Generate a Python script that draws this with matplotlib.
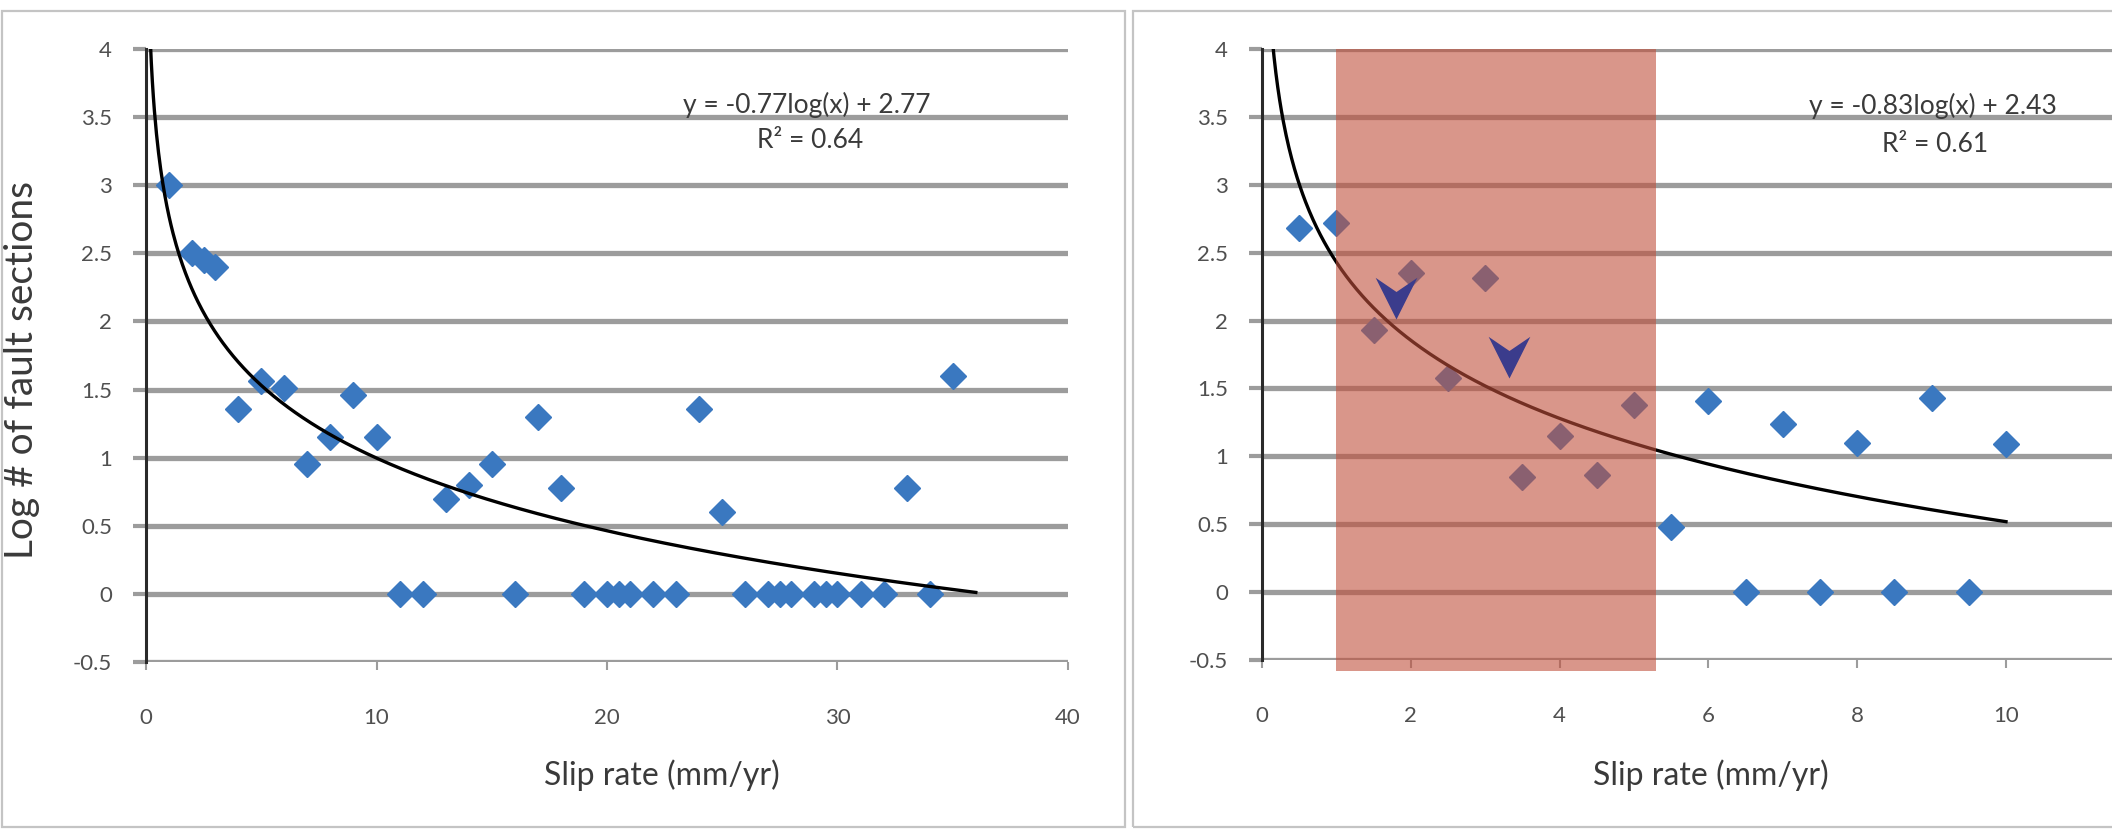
import numpy as np
import matplotlib
matplotlib.use("Agg")
import matplotlib.pyplot as plt
from matplotlib.patches import Rectangle
from matplotlib.path import Path

plt.rcParams['font.family'] = ['Lato', 'DejaVu Sans']

# ---------------- data ----------------
left_x = [1, 2, 2.5, 3, 4, 5, 6, 7, 8, 9, 10, 11, 12, 13, 14, 15, 16, 17, 18,
          19, 20, 20.5, 21, 22, 23, 24, 25, 26, 27, 27.5, 28, 29, 29.5, 30, 31, 32,
          33, 34, 35]
left_y = [3.0, 2.5, 2.45, 2.4, 1.36, 1.56, 1.51, 0.95, 1.15, 1.46, 1.15, 0, 0, 0.7, 0.8, 0.95, 0, 1.3, 0.78,
          0, 0, 0, 0, 0, 0, 1.36, 0.6, 0, 0, 0, 0, 0, 0, 0, 0, 0,
          0.78, 0, 1.6]

right_x = [0.5, 1, 1.5, 2, 2.5, 3, 3.5, 4, 4.5, 5, 5.5, 6, 6.5, 7, 7.5, 8, 8.5, 9, 9.5, 10]
right_y = [2.68, 2.72, 1.93, 2.35, 1.58, 2.31, 0.85, 1.15, 0.86, 1.38, 0.48, 1.41, 0, 1.24, 0, 1.1, 0, 1.43, 0, 1.09]

left_fit = (-0.77, 2.77)      # y = a*ln(x) + b
right_fit = (-0.83, 2.43)
left_fit_range = (0.05, 36.0)
right_fit_range = (0.05, 10.0)
left_eq = ["y = -0.77log(x) + 2.77", "R² = 0.64"]
right_eq = ["y = -0.83log(x) + 2.43", "R² = 0.61"]

y_ticks = [-0.5, 0, 0.5, 1, 1.5, 2, 2.5, 3, 3.5, 4]
y_tick_labels = ["-0.5", "0", "0.5", "1", "1.5", "2", "2.5", "3", "3.5", "4"]
left_x_ticks = [0, 10, 20, 30, 40]
right_x_ticks = [0, 2, 4, 6, 8, 10]

shade_x = (1.0, 5.3)
shade_y = (-0.58, 4.0)
arrow_x = [1.80, 3.32]
arrow_y = [2.015, 1.574]

xlabel = "Slip rate (mm/yr)"
ylabel = "Log # of fault sections"

# ---------------- style ----------------
W, H = 2112, 840
BLUE = "#3A78C0"
GRID = "#9c9c9c"
TXT = "#505050"
fig = plt.figure(figsize=(W / 100, H / 100), dpi=100)
fig.patch.set_facecolor("white")

def px(x0, y0, x1, y1):
    return [x0 / W, 1 - y1 / H, (x1 - x0) / W, (y1 - y0) / H]

axL = fig.add_axes(px(146, 49, 1068, 662))
axR = fig.add_axes(px(1262, 49, 1262 + 892.8, 660))

def style(ax, xticks, xmax):
    ax.set_ylim(-0.5, 4)
    ax.set_xlim(0, xmax)
    ax.set_yticks(y_ticks)
    ax.set_yticklabels(y_tick_labels)
    ax.set_xticks(xticks)
    ax.set_xticklabels([str(t) for t in xticks])
    for s in ["top", "right", "bottom"]:
        ax.spines[s].set_visible(False)
    ax.spines["left"].set_color("#2a2a2a")
    ax.spines["left"].set_linewidth(2.2)
    ax.spines["left"].set_zorder(4)
    ax.yaxis.grid(True, color=GRID, lw=3.8)
    ax.set_axisbelow(True)
    ax.tick_params(axis="y", length=9.5, width=3.0, color=GRID, pad=15,
                   labelsize=16, labelcolor=TXT)
    ax.tick_params(axis="x", length=6, width=1.5, color=GRID, pad=27,
                   labelsize=16, labelcolor=TXT)
    ax.set_facecolor("white")

style(axL, left_x_ticks, 40)
style(axR, right_x_ticks, 12)

# points
axL.plot(left_x, left_y, "D", ms=13, color=BLUE, mec=BLUE, zorder=3)
axR.plot(right_x, right_y, "D", ms=13, color=BLUE, mec=BLUE, zorder=3)

# trendlines
xx = np.linspace(*left_fit_range, 800)
axL.plot(xx, left_fit[0] * np.log(xx) + left_fit[1], color="black", lw=2.4, zorder=3.5)
xx = np.linspace(*right_fit_range, 800)
axR.plot(xx, right_fit[0] * np.log(xx) + right_fit[1], color="black", lw=2.4, zorder=3.5)

# shaded band
axR.add_patch(Rectangle((shade_x[0], shade_y[0]), shade_x[1] - shade_x[0], shade_y[1] - shade_y[0],
                        facecolor=(193 / 255, 80 / 255, 60 / 255), alpha=0.6, lw=0,
                        zorder=5, clip_on=False))

# arrowheads
arrow_path = Path([(0, 0), (-0.5, 1), (0, 0.66), (0.5, 1), (0, 0)],
                  [Path.MOVETO, Path.LINETO, Path.LINETO, Path.LINETO, Path.CLOSEPOLY])
axR.plot(arrow_x, arrow_y, linestyle="none", marker=arrow_path, ms=60,
         color="#3B3C8C", mec="none", zorder=6)

# equations
EQ = "#3a3a3a"
fig.text(807 / W, 1 - 105 / H, left_eq[0], ha="center", va="center", fontsize=19, color=EQ)
fig.text(810 / W, 1 - 141 / H, left_eq[1], ha="center", va="center", fontsize=19, color=EQ)
fig.text(1933 / W, 1 - 106 / H, right_eq[0], ha="center", va="center", fontsize=19, color=EQ)
fig.text(1935 / W, 1 - 144 / H, right_eq[1], ha="center", va="center", fontsize=19, color=EQ)

# axis labels
fig.text(662 / W, 1 - 775 / H, xlabel, ha="center", va="center", fontsize=23, color=EQ)
fig.text(1711 / W, 1 - 775 / H, xlabel, ha="center", va="center", fontsize=23, color=EQ)
fig.text(22 / W, 1 - 370 / H, ylabel, ha="center", va="center", rotation=90, fontsize=28, color=EQ)

# panel frames
fig.add_artist(Rectangle((2 / W, 1 - 827 / H), (1125 - 2) / W, (827 - 11) / H,
                         transform=fig.transFigure, fill=False, ec="#c4c4c4", lw=1.6))
fig.add_artist(Rectangle((1133 / W, 1 - 827 / H), (2140 - 1133) / W, (827 - 11) / H,
                         transform=fig.transFigure, fill=False, ec="#c4c4c4", lw=1.6))

fig.savefig("out.png", dpi=100)
